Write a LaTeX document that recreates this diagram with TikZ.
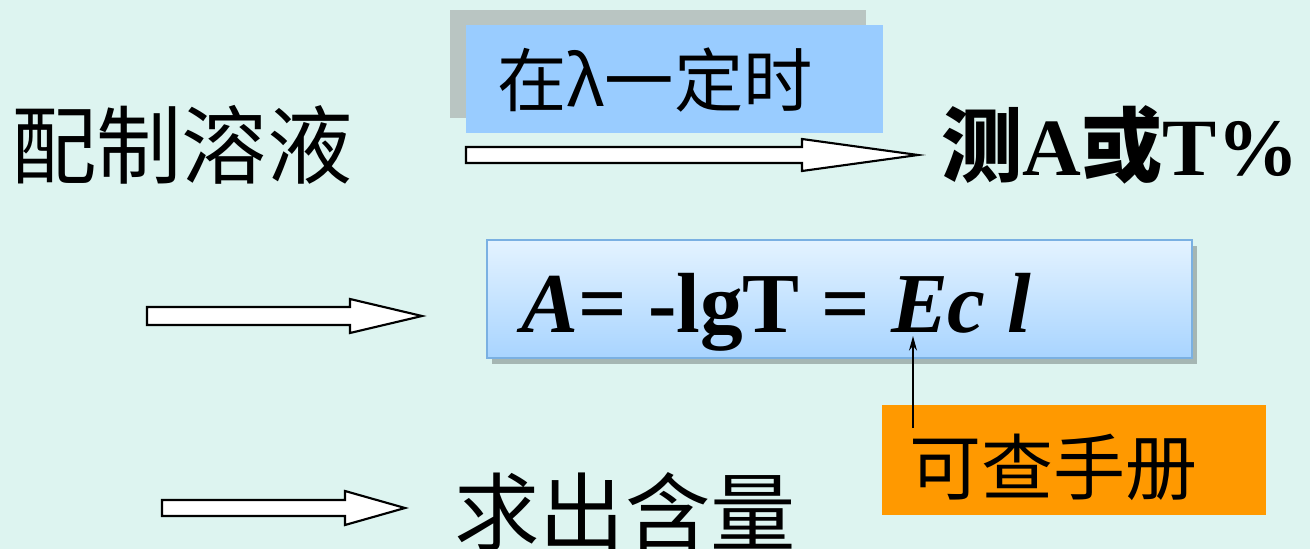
\documentclass[tikz,border=0pt]{standalone}
\usepackage{fontspec}
\setmainfont{Liberation Serif}
\newfontfamily\cjk{Noto Sans CJK SC}
\usetikzlibrary{arrows.meta}
\definecolor{bgc}{RGB}{221,244,240}
\definecolor{shadowgray}{RGB}{185,197,194}
\definecolor{lblue}{RGB}{153,204,255}
\definecolor{orng}{RGB}{255,153,0}
\definecolor{boxtop}{RGB}{228,243,255}
\definecolor{boxbot}{RGB}{168,212,255}
\definecolor{boxedge}{RGB}{122,176,226}
\newcommand\mybarrow[6]{% x0, xh, xt, yc, s, h
  \draw[barrow] (#1,#4-#5) -- (#2,#4-#5) -- (#2,#4-#6) -- (#3,#4) -- (#2,#4+#6) -- (#2,#4+#5) -- (#1,#4+#5) -- cycle;}
\tikzset{
  barrow/.style={fill=white,draw=black,line width=1.6pt,line join=miter},
  bigcjk/.style={font=\cjk\fontsize{64pt}{64pt}\selectfont,inner sep=0pt},
}
\begin{document}
\begin{tikzpicture}[x=0.75pt,y=-0.75pt]
\useasboundingbox (0,0) rectangle (1310,549);
\fill[bgc] (0,0) rectangle (1310,549);
% top label box
\fill[shadowgray] (450,10) rectangle (866,118);
\fill[lblue] (466,25) rectangle (883,133);
\node[font=\cjk\fontsize{52pt}{52pt}\selectfont,inner sep=0pt] (cond) at (655,80) {在λ一定时};
% texts
\node[bigcjk] (prep) at (182,145) {配制溶液};
\node[inner sep=0pt,font=\fontsize{61pt}{61pt}\selectfont\bfseries] (meas) at (1120,145) {{\cjk 测}A{\cjk 或}T\%};
% formula box
\fill[black,opacity=0.25] (492,246) rectangle (1197,364);
\shade[top color=boxtop,bottom color=boxbot] (487,240) rectangle (1192,358);
\draw[boxedge,line width=1.5pt] (487,240) rectangle (1192,358);
\node[inner sep=0pt,font=\fontsize{64pt}{64pt}\selectfont\bfseries,anchor=base] (law) at (776,332) {\textit{A}= -lgT = \textit{Ec l}};
% orange box
\fill[orng] (882,405) rectangle (1266,515);
\node[font=\cjk\fontsize{54pt}{54pt}\selectfont,inner sep=0pt] (hand) at (1053,467) {可查手册};
\coordinate (handTop) at (913,428);
\coordinate (eps) at (913,336);
\draw[line width=1.2pt,-{Stealth[length=11pt,width=6pt]}] (handTop) -- (eps);
% result
\node[bigcjk] (res) at (625,512) {求出含量};
% block arrows
\mybarrow{466}{802}{918}{155}{8}{16}
\mybarrow{147}{350}{422}{316}{9}{17}
\mybarrow{162}{345}{405}{508}{8}{17}
\end{tikzpicture}
\end{document}
